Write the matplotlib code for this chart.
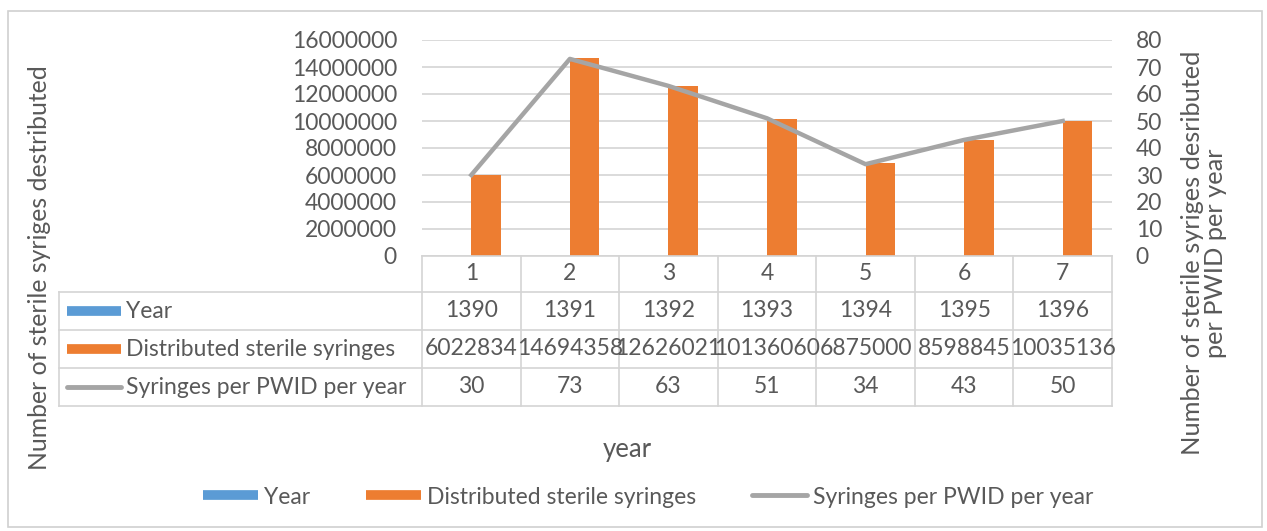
import matplotlib
matplotlib.use("Agg")
import matplotlib.pyplot as plt
from matplotlib.lines import Line2D

plt.rcParams['font.family'] = ['Lato', 'DejaVu Sans']

categories = ['1', '2', '3', '4', '5', '6', '7']
years = [1390, 1391, 1392, 1393, 1394, 1395, 1396]
syringes = [6022834, 14694358, 12626021, 10136060, 6875000, 8598845, 10035136]
per_pwid = [30, 73, 63, 51, 34, 43, 50]

row_names = ['Year', 'Distributed sterile syringes', 'Syringes per PWID per year']

BLUE = '#5B9BD5'
ORANGE = '#ED7D31'
GREY = '#A5A5A5'
TXT = '#595959'
GRID = '#D4D4D4'
FS = 16.5

W, H = 1267, 531
fig = plt.figure(figsize=(W / 100, H / 100), dpi=100)

def fx(px):
    return px / W

def fy(py):
    return 1 - py / H

# plot area in pixels
L, R, T, B = 422, 1112, 40, 256
ax = fig.add_axes([fx(L), fy(B), fx(R - L), fy(T) - fy(B)])
ax2 = ax.twinx()

x = list(range(len(categories)))
bw = 0.3
ax.bar([i - bw / 2 for i in x], years, width=bw, color=BLUE)
ax.bar([i + bw / 2 for i in x], syringes, width=bw, color=ORANGE)
ax2.plot(x, per_pwid, color=GREY, lw=3.2, solid_joinstyle='round')

ax.set_xlim(-0.5, len(categories) - 0.5)
ax.set_ylim(0, 16000000)
ax.set_yticks(range(0, 16000001, 2000000))
ax2.set_ylim(0, 80)
ax2.set_yticks(range(0, 81, 10))
ax.set_xticks([])
ax.grid(axis='y', color=GRID, lw=1.2)
ax.set_axisbelow(True)
for a in (ax, ax2):
    for s in a.spines.values():
        s.set_visible(False)
    a.tick_params(length=0, labelsize=FS, labelcolor=TXT)
ax.tick_params(axis='y', pad=18)
ax2.tick_params(axis='y', pad=17)
ax.yaxis.set_major_formatter(matplotlib.ticker.FuncFormatter(lambda v, p: f'{int(v)}'))

# data table under the plot
tr = ax.get_xaxis_transform()
plot_h = B - T

def ay(py):
    return (B - py) / plot_h

rows_px = [256, 292, 330, 368, 406]
label_left = 59
line_kw = dict(color=GRID, lw=1.2, clip_on=False)

# horizontal table lines
ax.plot([-0.5, 6.5], [ay(rows_px[0])] * 2, transform=tr, **line_kw)
for py in rows_px[1:]:
    fig.add_artist(Line2D([fx(label_left), fx(R)], [fy(py)] * 2, **line_kw))
# vertical table lines
for i in range(len(categories) + 1):
    ax.plot([i - 0.5] * 2, [ay(rows_px[0]), ay(rows_px[-1])], transform=tr, **line_kw)
fig.add_artist(Line2D([fx(label_left)] * 2, [fy(rows_px[1]), fy(rows_px[-1])], **line_kw))

# header row and value rows
def row_mid(k):
    return ay((rows_px[k] + rows_px[k + 1]) / 2)

for i, c in enumerate(categories):
    ax.text(i, row_mid(0), c, transform=tr, ha='center', va='center', fontsize=FS, color=TXT)
for k, vals in enumerate([years, syringes, per_pwid]):
    for i, v in enumerate(vals):
        ax.text(i, row_mid(k + 1), str(v), transform=tr, ha='center', va='center',
                fontsize=FS, color=TXT)

# row labels with legend keys
key_styles = [dict(color=BLUE, lw=7, solid_capstyle='butt'),
              dict(color=ORANGE, lw=7, solid_capstyle='butt'),
              dict(color=GREY, lw=3.5, solid_capstyle='round')]
for k, name in enumerate(row_names):
    ymid = fy((rows_px[k + 1] + rows_px[k + 2]) / 2)
    fig.add_artist(Line2D([fx(67), fx(121)], [ymid, ymid], **key_styles[k]))
    fig.text(fx(126), ymid, name, ha='left', va='center', fontsize=FS, color=TXT)

# axis titles
fig.text(fx(627), fy(449), 'year', ha='center', va='center', fontsize=18.5, color=TXT)
fig.text(fx(40), fy(268), 'Number of sterile syriges destributed', rotation=90,
         ha='center', va='center', fontsize=17.8, color=TXT)
fig.text(fx(1204), fy(253), 'Number of sterile syriges desributed\nper PWID per year',
         rotation=90, ha='center', va='center', fontsize=18.3, color=TXT, linespacing=1.0)

# legend
handles = [Line2D([], [], **key_styles[0]), Line2D([], [], **key_styles[1]),
           Line2D([], [], **key_styles[2])]
fig.legend(handles, row_names, loc='center', bbox_to_anchor=(fx(648), fy(497)), ncol=3,
           frameon=False, fontsize=FS, labelcolor=TXT, handlelength=2.4,
           handletextpad=0.25, columnspacing=2.45)

# chart border
fig.add_artist(plt.Rectangle((fx(8), fy(527)), fx(1254), fy(11) - fy(527), fill=False,
                             edgecolor='#D0D0D0', lw=1.2))

fig.savefig('out.png', dpi=100, facecolor='white')
